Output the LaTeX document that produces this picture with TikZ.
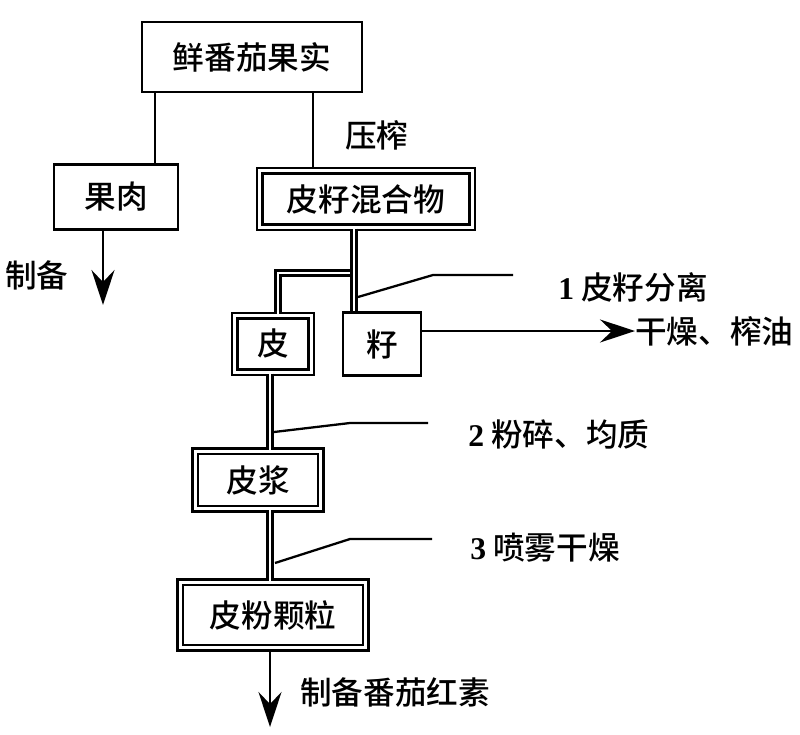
\documentclass[tikz,border=0pt]{standalone}
\usepackage{fontspec}
\setmainfont{Noto Sans CJK SC Medium}
\newfontfamily\numfont{Liberation Serif}
\usepackage{tikz}
\usetikzlibrary{arrows.meta}

\begin{document}
\begin{tikzpicture}[x=0.02cm, y=-0.02cm,
    font=\fontsize{18}{20}\selectfont,
    box/.style={draw, line width=1.5pt, inner sep=0pt},
    dbox/.style={draw, line width=1.5pt, double, double distance=1.6pt, inner sep=0pt},
    pipe/.style={line width=1.4pt, double, double distance=1.4pt},
    flow/.style={line width=1.4pt, -{Stealth[length=0.7cm, width=0.46cm, inset=0.24cm]}},
    lead/.style={line width=1.3pt},
    lbl/.style={anchor=west, inner sep=0pt}]
    \useasboundingbox (0,0) rectangle (800,734);

    \node[box, minimum width=4.4cm, minimum height=1.4cm] (fruit) at (252,57) {鲜番茄果实};
    \node[box, minimum width=2.48cm, minimum height=1.3cm] (flesh) at (116,197) {果肉};
    \node[dbox, minimum width=4.25cm, minimum height=1.13cm] (mix) at (366,199) {皮籽混合物};
    \node[dbox, minimum width=1.53cm, minimum height=1.13cm] (pi) at (273,344) {皮};
    \node[box, minimum width=1.56cm, minimum height=1.26cm] (zi) at (382,344) {籽};
    \node[dbox, minimum width=2.51cm, minimum height=1.15cm] (pulp) at (258,480) {皮浆};
    \node[dbox, minimum width=3.71cm, minimum height=1.31cm] (powder) at (273,615) {皮粉颗粒};

    \node[lbl] (press) at (345,135) {压榨};
    \node[lbl] (sauce) at (5,275) {制备};
    \node[lbl] (step1) at (558,287) {{\numfont\bfseries 1} 皮籽分离};
    \node[lbl] (dry) at (635,331) {干燥、榨油};
    \node[lbl] (step2) at (468,434) {{\numfont\bfseries 2} 粉碎、均质};
    \node[lbl] (step3) at (470,548) {{\numfont\bfseries 3} 喷雾干燥};
    \node[lbl] (lyco) at (300,692) {制备番茄红素};

    \coordinate (s1) at (513,275);
    \coordinate (s2) at (428,423);
    \coordinate (s3) at (432,539);
    \coordinate (endflesh) at (103,305);
    \coordinate (endpowder) at (270,727);

    \draw[line width=1.4pt] (fruit.south -| 155,0) -- (flesh.north -| 155,0);
    \draw[line width=1.4pt] (fruit.south -| 313,0) -- (mix.north -| 313,0);
    \draw[flow] (flesh.south -| endflesh) -- (endflesh);

    \draw[pipe] (354,273) -| (pi.north -| 278,0);
    \draw[pipe] (mix.south -| 354,0) -- (zi.north -| 354,0);
    \draw[lead] (358,297) -- (433,275) -- (s1);
    \draw[flow] (zi.east |- dry.west) -- (dry.west);

    \draw[pipe] (pi.south -| 270,0) -- (pulp.north -| 270,0);
    \draw[lead] (274,432) -- (350,423) -- (s2);

    \draw[pipe] (pulp.south -| 270,0) -- (powder.north -| 270,0);
    \draw[lead] (275,563) -- (350,539) -- (s3);

    \draw[flow] (powder.south -| endpowder) -- (endpowder);
\end{tikzpicture}
\end{document}
